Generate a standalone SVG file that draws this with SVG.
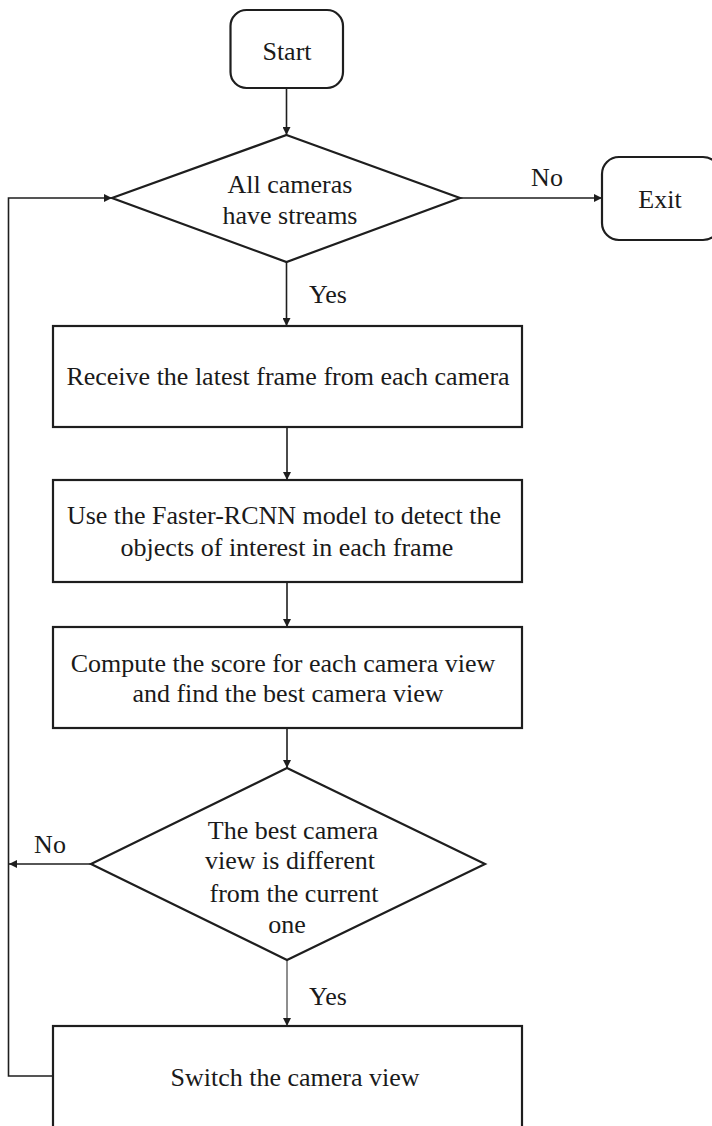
<svg xmlns="http://www.w3.org/2000/svg" width="712" height="1126" viewBox="0 0 712 1126">
<style>
.shape{fill:#fff;stroke:#1e1e1e;stroke-width:2.2}
.conn{fill:none;stroke:#1e1e1e;stroke-width:1.6}
.thin{fill:none;stroke:#1e1e1e;stroke-width:1}
.t{font-family:'Liberation Serif','Times New Roman',serif;font-size:26px;fill:#1a1a1a;text-anchor:middle}
</style>
<defs>
<marker id="arr" viewBox="0 0 10 10" refX="10" refY="5" markerWidth="8" markerHeight="8" markerUnits="userSpaceOnUse" orient="auto">
<path d="M0,0 L10,5 L0,10 z" fill="#1e1e1e"/>
</marker>
</defs>
<rect width="712" height="1126" fill="#fff"/>
<g id="connectors">
<line class="conn" x1="286.5" y1="88" x2="286.5" y2="135" marker-end="url(#arr)"/>
<line class="conn" x1="460" y1="198" x2="602" y2="198" marker-end="url(#arr)"/>
<line class="conn" x1="286.5" y1="262" x2="286.5" y2="326" marker-end="url(#arr)"/>
<line class="conn" x1="287" y1="427" x2="287" y2="480" marker-end="url(#arr)"/>
<line class="conn" x1="287" y1="582" x2="287" y2="627" marker-end="url(#arr)"/>
<line class="conn" x1="287" y1="728" x2="287" y2="768" marker-end="url(#arr)"/>
<line class="thin" x1="287" y1="960" x2="287" y2="1026" marker-end="url(#arr)"/>
<line class="conn" x1="91" y1="864" x2="9" y2="864" marker-end="url(#arr)"/>
<polyline class="conn" points="53,1076 8.5,1076 8.5,198 112,198" marker-end="url(#arr)"/>
<text class="t" x="547" y="186">No</text>
<text class="t" x="328" y="303">Yes</text>
<text class="t" x="50" y="853">No</text>
<text class="t" x="328" y="1005">Yes</text>
</g>
<g id="start">
<rect class="shape" x="230.5" y="10" width="112.5" height="78" rx="16"/>
<text class="t" x="287" y="60">Start</text>
</g>
<g id="decision1">
<polygon class="shape" points="286.5,135 460,198 286.5,262 112,198"/>
<text class="t" x="290" y="193">All cameras</text>
<text class="t" x="290" y="224">have streams</text>
</g>
<g id="exit">
<rect class="shape" x="602" y="157" width="118" height="83" rx="17"/>
<text class="t" x="660" y="208">Exit</text>
</g>
<g id="receive">
<rect class="shape" x="53" y="326" width="469" height="101"/>
<text class="t" x="288" y="385">Receive the latest frame from each camera</text>
</g>
<g id="detect">
<rect class="shape" x="53" y="480" width="469" height="102"/>
<text class="t" x="284" y="524">Use the Faster-RCNN model to detect the</text>
<text class="t" x="287" y="556">objects of interest in each frame</text>
</g>
<g id="score">
<rect class="shape" x="53" y="627" width="469" height="101"/>
<text class="t" x="283" y="672">Compute the score for each camera view</text>
<text class="t" x="288" y="702">and find the best camera view</text>
</g>
<g id="decision2">
<polygon class="shape" points="287,768 485,864 287,960 91,864"/>
<text class="t" x="293" y="839">The best camera</text>
<text class="t" x="290" y="869">view is different</text>
<text class="t" x="294" y="902">from the current</text>
<text class="t" x="287" y="933">one</text>
</g>
<g id="switch">
<rect class="shape" x="53" y="1026" width="469" height="110"/>
<text class="t" x="295" y="1086">Switch the camera view</text>
</g>
</svg>
